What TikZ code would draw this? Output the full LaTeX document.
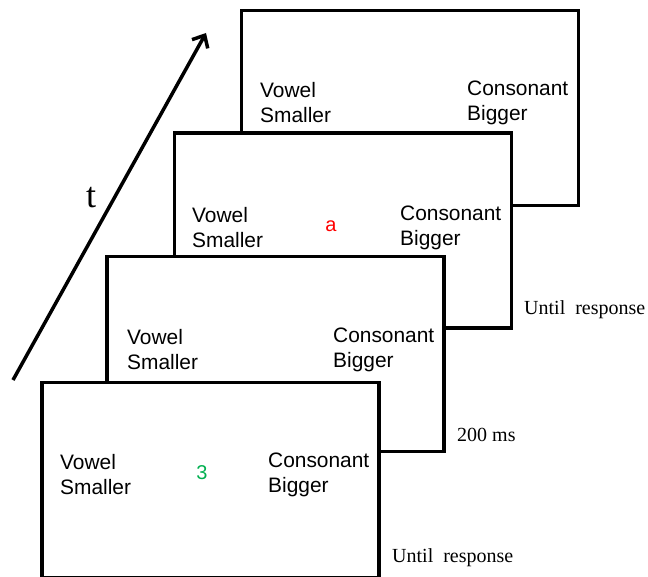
\documentclass[tikz,border=0pt]{standalone}
\usepackage{fontspec}
\setmainfont{Liberation Serif}
\newfontfamily\arialf{Liberation Sans}
\usetikzlibrary{arrows.meta}
\definecolor{stimgreen}{RGB}{0,176,80}
\definecolor{stimred}{RGB}{255,0,0}
\begin{document}
\begin{tikzpicture}[x=1pt,y=-1pt,
  frame/.style={draw=black, fill=white, line width=3.5pt, minimum width=337pt, minimum height=195pt, inner sep=0pt, anchor=center},
  resp/.style={inner sep=0pt, anchor=west, align=left, font=\arialf\fontsize{20.9}{25}\selectfont},
  stim/.style={inner sep=0pt, font=\arialf\fontsize{20}{24}\selectfont},
  dur/.style={inner sep=0pt, anchor=west, font=\fontsize{20}{22}\selectfont}]
\clip (0,0) rectangle (648,577);
\useasboundingbox (0,0) rectangle (648,577);
% time arrow
\coordinate (tstart) at (13,380);
\coordinate (tend) at (206,33);
\draw[line width=3.5pt, -{Straight Barb[length=10pt,width=18pt,line width=3.5pt]}] (tstart) -- (tend);
\node[inner sep=0pt, font=\fontsize{36}{38}\selectfont] (tlab) at (91,198) {t};
% frame 4 (back)
\node[frame] (f4) at (410,108) {};
\node[resp] (f4l) at (260,103) {Vowel\\Smaller};
\node[resp] (f4r) at (467,103) {Consonant\\Bigger};
% frame 3
\node[frame] (f3) at (343,230.5) {};
\node[resp] (f3l) at (192,228) {Vowel\\Smaller};
\node[resp] (f3r) at (400,228) {Consonant\\Bigger};
\node[stim, text=stimred] (f3s) at (331,226) {a};
% frame 2
\node[frame] (f2) at (275.5,354) {};
\node[resp] (f2l) at (127,350) {Vowel\\Smaller};
\node[resp] (f2r) at (333,350) {Consonant\\Bigger};
% frame 1 (front)
\node[frame] (f1) at (210.5,480) {};
\node[resp] (f1l) at (60,475) {Vowel\\Smaller};
\node[resp] (f1r) at (268,475) {Consonant\\Bigger};
\node[stim, text=stimgreen] (f1s) at (202,473) {3};
% durations
\node[dur] (d3) at (524,310) {Until\ \ response};
\node[dur] (d2) at (457,435) {200 ms};
\node[dur] (d1) at (392,558) {Until\ \ response};
\end{tikzpicture}
\end{document}
